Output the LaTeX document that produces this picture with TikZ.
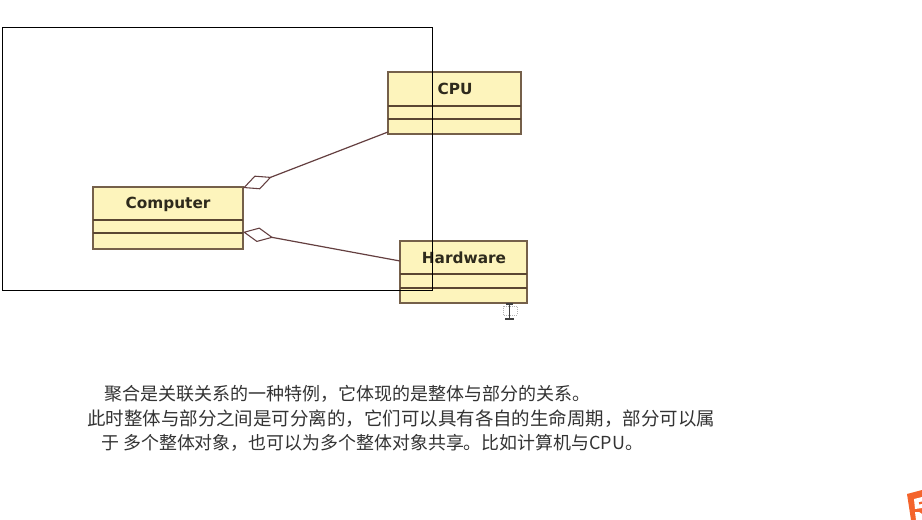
\documentclass[tikz,border=0pt]{standalone}
\usepackage{fontspec}
\setmainfont{DejaVu Sans}
\newfontfamily\cjk{Noto Sans CJK SC}
\usetikzlibrary{arrows.meta,calc}
\definecolor{boxfill}{HTML}{FDF4BC}
\definecolor{boxline}{HTML}{75604A}
\definecolor{divline}{HTML}{5A4632}
\definecolor{assocline}{HTML}{643F40}
\definecolor{txt}{HTML}{2E2A1C}
\definecolor{cjktxt}{HTML}{333333}
\definecolor{logo}{HTML}{F4642C}
\tikzset{
  x=0.75pt,y=-0.75pt,
  classbox/.style={draw=boxline,line width=1.1pt,fill=boxfill,inner sep=0pt,outer sep=0pt},
  divider/.style={draw=divline,line width=0.9pt},
  classtitle/.style={font=\bfseries\fontsize{11.5pt}{13pt}\selectfont,text=txt,inner sep=0pt},
  assoc/.style={draw=assocline,line width=0.9pt,{Diamond[open,length=23pt,width=11pt,line width=0.8pt]}-},
  framebox/.style={draw=black,line width=0.75pt},
  para/.style={font=\cjk\fontsize{#1}{16pt}\selectfont,text=cjktxt,anchor=west,inner sep=0pt}
}
\begin{document}
\begin{tikzpicture}
\useasboundingbox (0,0) rectangle (922,520);
\fill[white] (0,0) rectangle (922,520);
% class boxes
\node[classbox,minimum width=99.75pt,minimum height=46.5pt] (cpu) at (454.5,103) {};
\node[classbox,minimum width=112.5pt,minimum height=46.5pt] (computer) at (168,218) {};
\node[classbox,minimum width=95.25pt,minimum height=46.5pt] (hardware) at (463.5,272) {};
% dividers
\draw[divider] ($(cpu.north west)+(0,34)$) -- ($(cpu.north east)+(0,34)$);
\draw[divider] ($(cpu.north west)+(0,47)$) -- ($(cpu.north east)+(0,47)$);
\draw[divider] ($(computer.north west)+(0,33)$) -- ($(computer.north east)+(0,33)$);
\draw[divider] ($(computer.north west)+(0,46)$) -- ($(computer.north east)+(0,46)$);
\draw[divider] ($(hardware.north west)+(0,33)$) -- ($(hardware.north east)+(0,33)$);
\draw[divider] ($(hardware.north west)+(0,47)$) -- ($(hardware.north east)+(0,47)$);
% titles
\node[classtitle] (cputitle) at (455,89) {CPU};
\node[classtitle] (computertitle) at (168,204) {Computer};
\node[classtitle] (hardwaretitle) at (464,257.5) {Hardware};
% connectors
\coordinate (compupper) at ($(computer.north east)+(0,1)$);
\coordinate (complower) at ($(computer.north east)+(0,45)$);
\coordinate (cpuend) at ($(cpu.south west)+(0,-2)$);
\coordinate (hwend) at ($(hardware.north west)+(0,20)$);
\draw[assoc] (compupper) -- (cpuend);
\draw[assoc] (complower) -- (hwend);
% frame on top
\node[framebox,inner sep=0pt,minimum width=322.25pt,minimum height=197.25pt] (frame) at (217.4,159) {};
% text
\node[para=13.5pt] (lineone) at (104,394) {聚合是关联关系的一种特例，它体现的是整体与部分的关系。};
\node[para=13.85pt] (linetwo) at (87,419) {此时整体与部分之间是可分离的，它们可以具有各自的生命周期，部分可以属};
\node[para=13.45pt] (linethree) at (101,443) {于 多个整体对象，也可以为多个整体对象共享。比如计算机与CPU。};
% cursor
\draw[gray!60,line width=0.5pt,densely dotted] (503,306) rectangle (517,315);
\draw[black!75,line width=0.8pt] (506,304) -- (513,304) (509.5,304) -- (509.5,319) (505,319) -- (514,319);
% logo corner
\fill[logo] (907,494) -- (922,490) -- (922,520) -- (911,520) -- cycle;
\fill[white] (922,497) -- (914,499) -- (915,509) -- (922,508) -- (922,504) -- (919,504.5) -- (918.7,502) -- (922,501.5) -- cycle;
\fill[white] (915,512) -- (919,512) -- (922,514) -- (922,520) -- (916,520) -- cycle;
\end{tikzpicture}
\end{document}
